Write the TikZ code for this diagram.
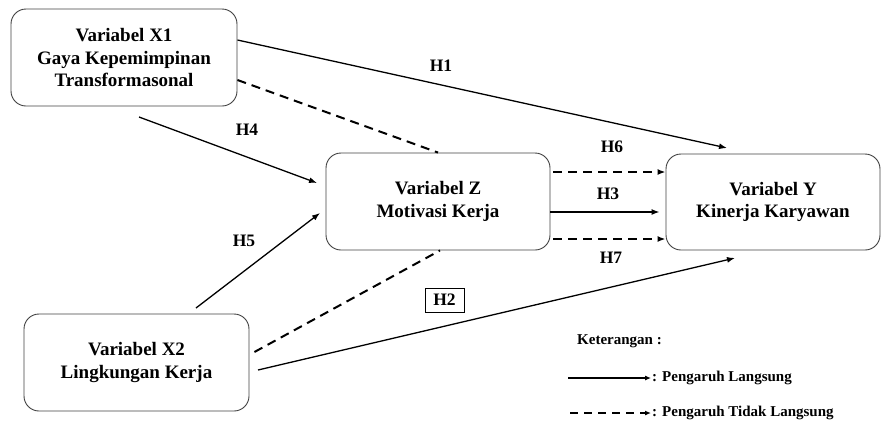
\documentclass[tikz,border=0pt]{standalone}
\usepackage{fontspec}
\setmainfont{Liberation Serif}
\usepackage{tikz}
\usetikzlibrary{positioning,calc,arrows.meta}

\tikzset{
  varbox/.style={draw=black!75, line width=0.9pt, rounded corners=15pt, align=center,
    inner sep=0pt, font=\fontsize{19}{22.5}\selectfont\bfseries},
  direct/.style={line width=1.3pt, -{Latex[length=8pt,width=6pt]}},
  indirect/.style={line width=2pt, dash pattern=on 9pt off 6pt},
  hlabel/.style={font=\fontsize{17.5}{20}\selectfont\bfseries},
  legtext/.style={font=\fontsize{15}{17}\selectfont\bfseries, anchor=west, inner sep=1pt}
}

\begin{document}
\begin{tikzpicture}[x=1pt, y=-1pt]
\useasboundingbox (0,0) rectangle (881,426);

% variabel
\node[varbox, minimum width=226pt, minimum height=97pt] (x1) at (124,57.5) {Variabel X1\\Gaya Kepemimpinan\\Transformasonal};
\node[varbox, minimum width=224pt, minimum height=97pt] (z) at (438,201.5) {Variabel Z\\Motivasi Kerja};
\node[varbox, minimum width=214pt, minimum height=96pt] (y) at (773,202) {Variabel Y\\Kinerja Karyawan};
\node[varbox, minimum width=225pt, minimum height=97pt] (x2) at (136.5,362.5) {Variabel X2\\Lingkungan Kerja};

% ujung panah bebas
\coordinate (h1e) at (727,148);
\coordinate (h4s) at (139,117);
\coordinate (h4e) at (317,183);
\coordinate (h5s) at (196,308);
\coordinate (h5e) at (320,213);
\coordinate (h2s) at (258,370);
\coordinate (h2e) at (735,258);

% pengaruh langsung
\draw[direct] ([yshift=17.5pt]x1.east) -- (h1e);
\draw[direct] (h4s) -- (h4e);
\draw[direct] (h5s) -- (h5e);
\draw[direct] (h2s) -- (h2e);
\draw[direct, shorten >=6pt] ([yshift=-10.5pt]z.east) -- ([yshift=-10pt]y.west);

% pengaruh tidak langsung
\draw[indirect] ([yshift=-22.5pt]x1.east) -- (z.north);
\draw[indirect] ([xshift=5pt,yshift=10.5pt]x2.east) -- ([xshift=2pt]z.south);
\draw[indirect, -{Latex[length=8pt,width=6pt]}] ([xshift=3pt,yshift=29.5pt]z.east) -- ([yshift=30pt]y.west);
\draw[indirect, -{Latex[length=8pt,width=6pt]}] ([xshift=3pt,yshift=-37.5pt]z.east) -- ([yshift=-37pt]y.west);

% label hipotesis
\node[hlabel] (lh1) at (441,66) {H1};
\node[hlabel] (lh4) at (247,130) {H4};
\node[hlabel] (lh5) at (244,241) {H5};
\node[hlabel] (lh6) at (612,147) {H6};
\node[hlabel] (lh3) at (608,194) {H3};
\node[hlabel] (lh7) at (611,258) {H7};
\node[hlabel, draw, line width=0.6pt, minimum width=39pt, minimum height=24pt, inner sep=0pt] (lh2) at (444.5,300) {H2};

% keterangan
\node[legtext] (ket) at (576,341) {Keterangan :};
\node[legtext] (lgA) at (651,378) {: Pengaruh Langsung};
\node[legtext] (lgB) at (651,413) {: Pengaruh Tidak Langsung};
\coordinate (lgAs) at (568,378);
\coordinate (lgBs) at (570,413);
\draw[line width=1.1pt, -{Latex[length=6pt,width=5pt]}] (lgAs) -- (lgA.west);
\draw[line width=1.8pt, dash pattern=on 8pt off 6pt, -{Latex[length=6pt,width=5pt]}] (lgBs) -- (lgB.west);
\end{tikzpicture}
\end{document}
